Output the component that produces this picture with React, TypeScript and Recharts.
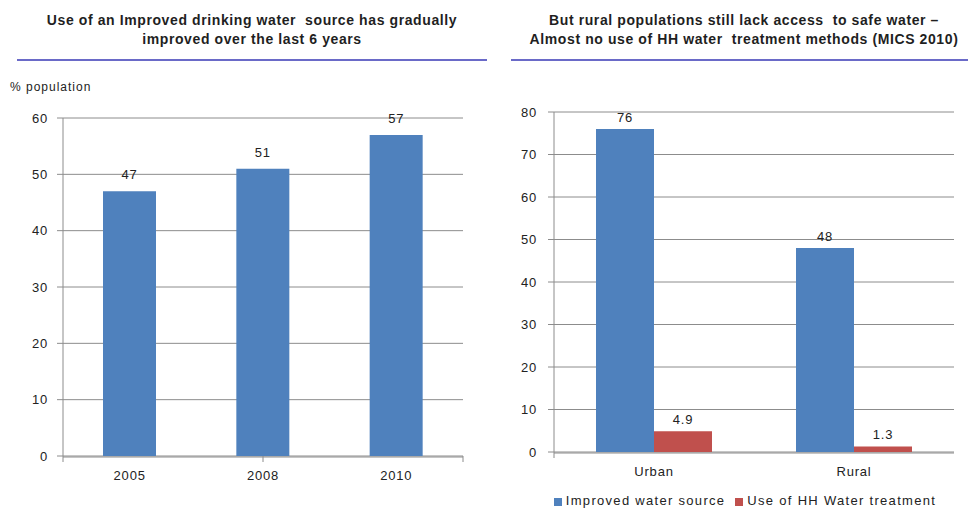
import { Bar, BarChart, CartesianGrid, LabelList, Legend, XAxis, YAxis } from 'recharts';

const years = ['2005', '2008', '2010'];
const improvedByYear = [47, 51, 57];
const leftTicks = [0, 10, 20, 30, 40, 50, 60];

const areas = ['Urban', 'Rural'];
const improvedByArea = [76, 48];
const treatmentByArea = [4.9, 1.3];
const rightTicks = [0, 10, 20, 30, 40, 50, 60, 70, 80];

const BLUE = '#4f81bd';
const RED = '#c0504d';
const GRID = '#8c8c8c';
const FONT = '"Liberation Sans", Arial, sans-serif';

const leftData = years.map((year, i) => ({ year, value: improvedByYear[i] }));
const rightData = areas.map((area, i) => ({
  area,
  improved: improvedByArea[i],
  treatment: treatmentByArea[i],
}));

const tickStyle = { fill: '#222', fontSize: 13, fontFamily: FONT, letterSpacing: 0.8 };

function Title({ lines, center }: { lines: string[]; center: number }) {
  return (
    <div
      style={{
        position: 'absolute',
        left: center - 240,
        top: 11,
        width: 480,
        textAlign: 'center',
        fontFamily: FONT,
        fontWeight: 'bold',
        fontSize: 14,
        letterSpacing: 0.6,
        lineHeight: '19px',
        color: '#1f1f1f',
        whiteSpace: 'pre',
      }}
    >
      {lines.map((l) => (
        <div key={l}>{l}</div>
      ))}
    </div>
  );
}

const noLabel = () => <g />;

export default function App() {
  return (
    <div style={{ position: 'absolute', left: 0, top: 0, width: 968, height: 508, background: '#fff', overflow: 'hidden' }}>
      <Title
        lines={['Use of an Improved drinking water  source has gradually', 'improved over the last 6 years']}
        center={252}
      />
      <Title
        lines={['But rural populations still lack access  to safe water \u2013', 'Almost no use of HH water  treatment methods (MICS 2010)']}
        center={744}
      />
      <div style={{ position: 'absolute', left: 17, top: 59, width: 470, height: 2, background: '#6a6ac8' }} />
      <div style={{ position: 'absolute', left: 511, top: 59, width: 457, height: 2, background: '#6a6ac8' }} />
      <div
        style={{
          position: 'absolute',
          left: 10,
          top: 80,
          fontFamily: FONT,
          fontSize: 12,
          letterSpacing: 1,
          color: '#222',
        }}
      >
        % population
      </div>

      <div style={{ position: 'absolute', left: 0, top: 0 }}>
        <BarChart
          width={484}
          height={508}
          data={leftData}
          margin={{ top: 118, right: 21, left: 13, bottom: 22 }}
          barCategoryGap="30%"
        >
          <CartesianGrid vertical={false} stroke={GRID} />
          <XAxis xAxisId="z" dataKey="year" height={29} tickLine={false} stroke={GRID} tick={tickStyle} tickMargin={8} />
          <XAxis xAxisId="a" type="number" domain={[0, 3]} ticks={[0, 1, 2, 3]} height={1} tick={noLabel} tickSize={6} axisLine={false} stroke={GRID} />
          <YAxis domain={[0, 60]} ticks={leftTicks} width={50} stroke={GRID} tick={tickStyle} tickSize={6} tickMargin={9} />
          <Bar xAxisId="z" dataKey="value" fill={BLUE} isAnimationActive={false}>
            <LabelList dataKey="value" position="top" offset={12} style={tickStyle} />
          </Bar>
        </BarChart>
      </div>

      <div style={{ position: 'absolute', left: 484, top: 0 }}>
        <BarChart
          width={484}
          height={508}
          data={rightData}
          margin={{ top: 112, right: 14, left: 20, bottom: 0 }}
          barCategoryGap="21%"
          barGap={0}
        >
          <CartesianGrid vertical={false} stroke={GRID} />
          <XAxis xAxisId="z" dataKey="area" height={40} tickLine={false} stroke={GRID} tick={tickStyle} tickMargin={8} />
          <XAxis xAxisId="a" type="number" domain={[0, 2]} ticks={[0, 1, 2]} height={1} tick={noLabel} tickSize={6} axisLine={false} stroke={GRID} />
          <YAxis domain={[0, 80]} ticks={rightTicks} width={50} stroke={GRID} tick={tickStyle} tickSize={6} tickMargin={11} />
          <Legend
            iconType="square"
            iconSize={8}
            wrapperStyle={{ fontFamily: FONT, fontSize: 13, letterSpacing: 1.3, color: '#222', left: 46, width: 440 }}
            formatter={(v: string) => <span style={{ color: '#222' }}>{v}</span>}
          />
          <Bar xAxisId="z" dataKey="improved" name="Improved water source" fill={BLUE} isAnimationActive={false}>
            <LabelList dataKey="improved" position="top" offset={7} style={tickStyle} />
          </Bar>
          <Bar xAxisId="z" dataKey="treatment" name="Use of HH Water treatment" fill={RED} isAnimationActive={false}>
            <LabelList dataKey="treatment" position="top" offset={7} style={tickStyle} />
          </Bar>
        </BarChart>
      </div>
    </div>
  );
}
